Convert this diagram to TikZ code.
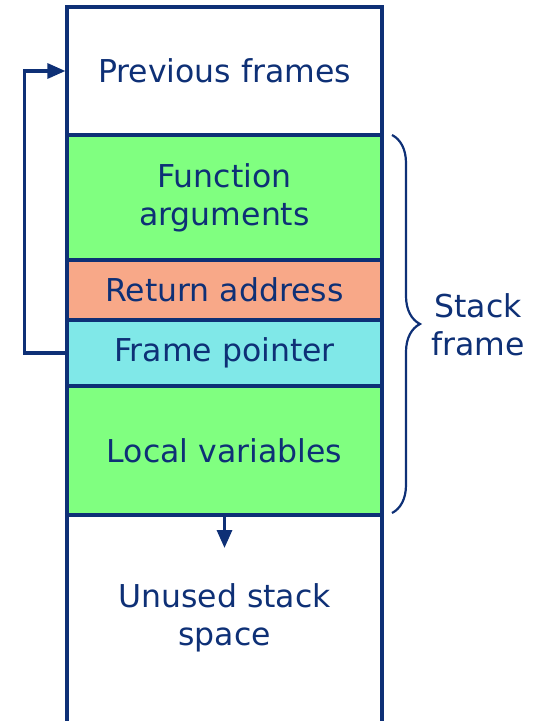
\documentclass[tikz,border=0pt]{standalone}
\usepackage{fontspec}
\setmainfont{DejaVu Sans}
\usetikzlibrary{arrows.meta,decorations.pathreplacing}
\definecolor{navy}{RGB}{14,48,118}
\definecolor{cellgreen}{RGB}{128,255,128}
\definecolor{cellsalmon}{RGB}{248,168,136}
\definecolor{cellcyan}{RGB}{128,232,232}
\begin{document}
\begin{tikzpicture}[x=1pt,y=1pt,
  cell/.style={draw=navy,line width=3.2pt,inner sep=0pt,minimum width=315pt,
    text=navy,align=center,font=\fontsize{31.5}{38}\selectfont},
  conn/.style={draw=navy,line width=3.2pt},
  tip/.style={-{Triangle[length=18pt,width=15pt]}}
]
\useasboundingbox (0,0) rectangle (536,-721);
% unused space (open at the bottom)
\node[cell,draw=none,minimum height=206pt] (unused) at (224.5,-618) {Unused stack\\space};
\draw[conn] (67,-721) -- (67,-515) (382,-515) -- (382,-721);
\node[cell,fill=white,minimum height=128pt] (prev) at (224.5,-71) {Previous frames};
\node[cell,fill=cellgreen,minimum height=125pt] (args) at (224.5,-197.5) {Function\\arguments};
\node[cell,fill=cellsalmon,minimum height=60pt] (ret) at (224.5,-290) {Return address};
\node[cell,fill=cellcyan,minimum height=66pt] (fp) at (224.5,-353) {Frame pointer};
\node[cell,fill=cellgreen,minimum height=129pt] (loc) at (224.5,-450.5) {Local variables};
% frame pointer link
\draw[conn,tip] (fp.west) -- ++(-41,0) |- (prev.west);
% growth arrow
\coordinate (growend) at (224.5,-548);
\draw[conn,tip] (loc.south) -- (growend);
% brace
\coordinate (bracetop) at (392,-135);
\coordinate (bracebot) at (392,-513);
\draw[navy,line width=2.2pt,decorate,decoration={brace,amplitude=28pt}] (bracetop) -- (bracebot);
\node[text=navy,align=center,font=\fontsize{31.5}{38}\selectfont] (sf) at (478,-325) {Stack\\frame};
\end{tikzpicture}
\end{document}
